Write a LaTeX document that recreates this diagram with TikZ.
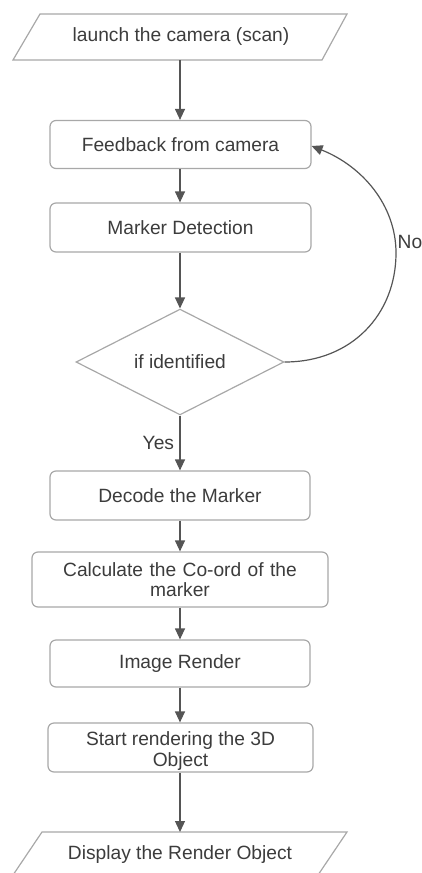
\documentclass[tikz,border=0pt]{standalone}
\usepackage{fontspec}
\setmainfont{Liberation Sans}
\usetikzlibrary{arrows.meta,shapes.geometric}
\definecolor{boxline}{HTML}{A8A8A8}
\definecolor{arrowc}{HTML}{555555}
\definecolor{txt}{HTML}{3C3C3C}
\begin{document}
\begin{tikzpicture}[x=1pt,y=-1pt,
  every node/.style={font=\fontsize{19.2}{21.5}\selectfont, text=txt},
  procbox/.style={draw=boxline, line width=1.2pt, rounded corners=6pt, minimum width=261pt, minimum height=48pt, inner sep=2pt, align=center},
  shapeline/.style={draw=boxline, line width=1.2pt},
  flow/.style={draw=arrowc, line width=1.2pt, -{Triangle[length=11pt,width=10pt]}}]
\useasboundingbox (0,0) rectangle (422,873);
% top parallelogram
\draw[shapeline] (40,14) -- (347,14) -- (322,60) -- (13,60) -- cycle;
\node[minimum height=46pt, minimum width=200pt] (launch) at (181,37) {launch the camera (scan)};
\node[procbox] (feed) at (180.5,144.5) {Feedback from camera};
\node[procbox, minimum height=49pt] (detect) at (180.5,227.5) {Marker Detection};
\node[draw=boxline, line width=1.2pt, shape=diamond, minimum width=208pt, minimum height=103pt, inner sep=0pt] (ident) at (180,362) {if identified};
\node[procbox, minimum width=260pt, minimum height=49pt] (decode) at (180,495.5) {Decode the Marker};
\node[procbox, minimum width=296pt, minimum height=55pt, text width=260pt] (calc) at (180,579.5) {Calculate the Co-ord of the\\[-1pt] marker};
\node[procbox, minimum width=260pt, minimum height=47pt] (render) at (180,663.5) {Image Render};
\node[procbox, minimum width=265pt, minimum height=49pt] (start) at (180.5,747.5) {};
\node[align=center, inner sep=0pt] (starttext) at (180.5,751) {Start rendering the 3D\\[-1pt] Object};
% bottom parallelogram
\draw[shapeline] (42,832) -- (347,832) -- (316,878) -- (11,878) -- cycle;
\node[minimum height=46pt, minimum width=200pt] (display) at (180,855) {Display the Render Object};
\coordinate (dtop) at (180,832);
% connectors
\draw[flow] (launch.south -| 180,0) -- (feed.north -| 180,0);
\draw[flow] (feed.south -| 180,0) -- (detect.north -| 180,0);
\draw[flow] (detect.south -| 180,0) -- (ident.north);
\draw[flow] (ident.south) -- node[pos=0.5, left=2pt] (yes) {Yes} (decode.north -| 180,0);
\draw[flow] (decode.south) -- (calc.north);
\draw[flow] (calc.south) -- (render.north);
\draw[flow] (render.south) -- (start.north -| 180,0);
\draw[flow] (start.south -| 180,0) -- (dtop);
\draw[flow] (ident.east) .. controls (352,362) and (396,314) .. (396,253)
  .. controls (396,205) and (362,166) .. (feed.east |- 0,146);
\node[anchor=west, inner sep=0pt] (no) at (397.5,242) {No};
\end{tikzpicture}
\end{document}
